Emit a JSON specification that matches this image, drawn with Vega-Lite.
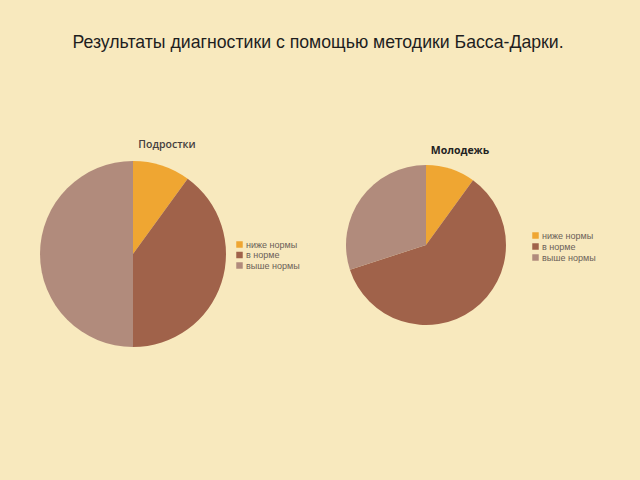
{
  "$schema": "https://vega.github.io/schema/vega-lite/v6.json",
  "background": "#F8E9BE",
  "padding": {"left": 40, "top": 33, "right": 44, "bottom": 133},
  "title": {
    "text": "Результаты диагностики с помощью методики Басса-Дарки.",
    "font": "Liberation Sans",
    "fontSize": 17.7,
    "fontWeight": "normal",
    "color": "#1e1e1e",
    "anchor": "middle",
    "offset": 88
  },
  "datasets": {
    "teen": [
      {"cat": "ниже нормы", "i": 1, "v": 10},
      {"cat": "в норме", "i": 2, "v": 40},
      {"cat": "выше нормы", "i": 3, "v": 50}
    ],
    "young": [
      {"cat": "ниже нормы", "i": 1, "v": 10},
      {"cat": "в норме", "i": 2, "v": 60},
      {"cat": "выше нормы", "i": 3, "v": 30}
    ]
  },
  "spacing": 46,
  "config": {
    "view": {"stroke": null},
    "legend": {
      "symbolType": "square",
      "symbolSize": 42,
      "symbolStrokeWidth": 0,
      "labelFontSize": 9,
      "labelFont": "Liberation Sans",
      "labelColor": "#6a6058",
      "rowPadding": 0.5,
      "labelOffset": 2,
      "title": null
    },
    "title": {"font": "Open Sans", "fontSize": 10.5, "anchor": "middle"}
  },
  "resolve": {"legend": {"color": "independent"}},
  "hconcat": [
    {
      "width": 186,
      "height": 186,
      "title": {"text": "Подростки", "dx": 34, "offset": 11, "fontWeight": 600, "color": "#454040"},
      "data": {"name": "teen"},
      "mark": {"type": "arc", "outerRadius": 93},
      "encoding": {
        "theta": {"field": "v", "type": "quantitative", "stack": true},
        "order": {"field": "i", "type": "quantitative"},
        "color": {
          "field": "cat",
          "type": "nominal",
          "scale": {"domain": ["ниже нормы", "в норме", "выше нормы"], "range": ["#EFA632", "#A0624A", "#B18B7C"]},
          "legend": {"orient": "none", "legendX": 195, "legendY": 79}
        }
      }
    },
    {
      "width": 160,
      "height": 168,
      "title": {"text": "Молодежь", "dx": 34, "offset": 5, "fontWeight": "bold", "color": "#222222"},
      "data": {"name": "young"},
      "mark": {"type": "arc", "outerRadius": 80},
      "encoding": {
        "theta": {"field": "v", "type": "quantitative", "stack": true},
        "order": {"field": "i", "type": "quantitative"},
        "color": {
          "field": "cat",
          "type": "nominal",
          "scale": {"domain": ["ниже нормы", "в норме", "выше нормы"], "range": ["#EFA632", "#A0624A", "#B18B7C"]},
          "legend": {"orient": "none", "legendX": 185, "legendY": 70, "rowPadding": 1}
        }
      }
    }
  ]
}
